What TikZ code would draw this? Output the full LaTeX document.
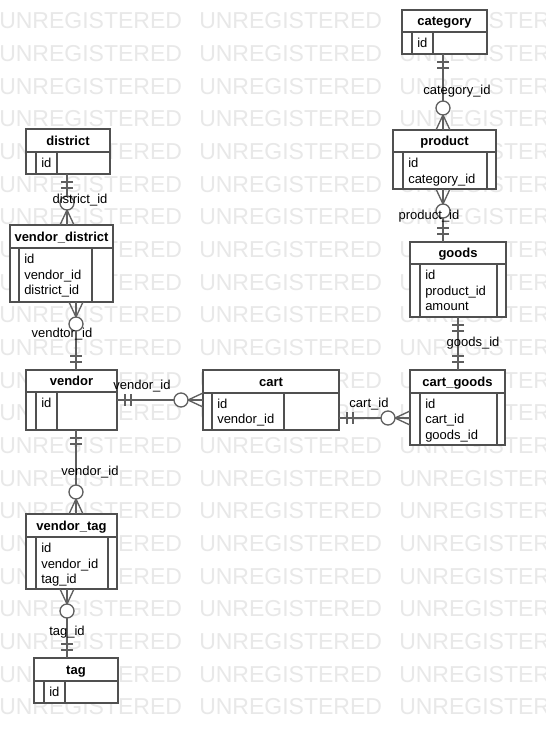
\documentclass[tikz,border=0pt]{standalone}
\usepackage{fontspec}
\setmainfont{Liberation Sans}
\usetikzlibrary{calc}
\definecolor{boxc}{RGB}{80,80,80}
\definecolor{relc}{RGB}{95,95,95}
\definecolor{wmc}{RGB}{232,232,232}
\tikzset{
  ent/.style={draw=boxc, fill=white, line width=1.4pt, inner sep=0pt, outer sep=0pt, anchor=center},
  innerln/.style={draw=boxc, line width=1.1pt},
  rel/.style={draw=relc, line width=1pt},
  ttl/.style={font=\bfseries\fontsize{9.75pt}{11pt}\selectfont, anchor=base, inner sep=0pt},
  attr/.style={font=\fontsize{9.75pt}{11pt}\selectfont, anchor=base west, inner sep=0pt},
  lab/.style={font=\fontsize{9.75pt}{11pt}\selectfont, anchor=base, inner sep=0pt},
  wm/.style={font=\fontsize{17.25pt}{20pt}\selectfont, text=wmc, anchor=west, inner sep=0pt}
}
% name, title, x1, y1, x2, y2, header y, inner x a, inner x b
\newcommand\entbox[9]{%
  \node[ent, minimum width={(#5-#3)*0.75pt}, minimum height={(#6-#4)*0.75pt}] (#1) at ({(#3+#5)/2},{(#4+#6)/2}) {};
  \draw[innerln] (#3,#7) -- (#5,#7) (#8,#7) -- (#8,#6) (#9,#7) -- (#9,#6);
  \node[ttl] (#1-t) at ({(#3+#5)/2},{(#4+#7)/2+4.5}) {#2};
}
% name, x, first baseline y, list
\newcommand\attrs[4]{%
  \foreach \atext [count=\ai] in {#4} {\node[attr] (#1-a\ai) at (#2+5, {#3+15.5*(\ai-1)}) {\atext};}
}
\newcommand\oneend[2]{%
  \begin{scope}[shift={(#1)}, rotate=#2]
    \draw[rel] (8,-6) -- (8,6) (14,-6) -- (14,6);
  \end{scope}}
\newcommand\manyend[2]{%
  \begin{scope}[shift={(#1)}, rotate=#2]
    \draw[rel] (0,-7) -- (15,0) -- (0,7) (0,0) -- (15,0);
    \draw[rel, fill=white] (22,0) circle[radius=7];
  \end{scope}}
\begin{document}
\begin{tikzpicture}[x=0.75pt, y=-0.75pt]
\useasboundingbox (0,0) rectangle (546,743);
\fill[white] (0,0) rectangle (546,743);
% watermark
\foreach \k in {0,...,21} {
  \foreach \xx in {0,200,400} {
    \node[wm] (wm-\k-\xx) at (\xx-1, {21+32.67*\k}) {UNREGISTERED};
  }
}
% entities
\entbox{category}{category}{402}{10}{487}{54}{32}{412}{433}
\attrs{category}{412}{47.5}{id}
\entbox{district}{district}{26}{129}{110}{174}{152}{36}{57}
\attrs{district}{36}{167.5}{id}
\entbox{vdistrict}{vendor\_district}{10}{225}{113}{302}{248}{19}{92}
\attrs{vdistrict}{19}{263.5}{id, vendor\_id, district\_id}
\entbox{vendor}{vendor}{26}{370}{117}{430}{392}{36}{57}
\attrs{vendor}{36}{407.5}{id}
\entbox{cart}{cart}{203}{370}{339}{430}{393}{212}{284}
\attrs{cart}{212}{408}{id, vendor\_id}
\entbox{cartgoods}{cart\_goods}{410}{370}{505}{445}{393}{420}{497}
\attrs{cartgoods}{420}{408}{id, cart\_id, goods\_id}
\entbox{goods}{goods}{410}{242}{506}{317}{264}{420}{497}
\attrs{goods}{420}{279.5}{id, product\_id, amount}
\entbox{product}{product}{393}{130}{496}{189}{152}{403}{487}
\attrs{product}{403}{167.5}{id, category\_id}
\entbox{vtag}{vendor\_tag}{26}{514}{117}{589}{537}{36}{108}
\attrs{vtag}{36}{552.5}{id, vendor\_id, tag\_id}
\entbox{tag}{tag}{34}{658}{118}{703}{681}{44}{65}
\attrs{tag}{44}{696.5}{id}
% helper coordinates for connector positions
\path (443,0) coordinate (xA) (458,0) coordinate (xB) (67,0) coordinate (xC) (76,0) coordinate (xD)
      (0,418) coordinate (yE) (0,400) coordinate (yF);
% 1 category - product
\draw[rel] (category.south -| xA) -- (product.north -| xA);
\oneend{category.south -| xA}{-90}
\manyend{product.north -| xA}{90}
\node[lab] (l1) at (457,94.5) {category\_id};
% 2 product - goods
\draw[rel] (product.south -| xA) -- (goods.north -| xA);
\manyend{product.south -| xA}{-90}
\oneend{goods.north -| xA}{90}
\node[lab] (l2) at (429,219.5) {product\_id};
% 3 goods - cart_goods
\draw[rel] (goods.south -| xB) -- (cartgoods.north -| xB);
\oneend{goods.south -| xB}{-90}
\oneend{cartgoods.north -| xB}{90}
\node[lab] (l3) at (473,346.5) {goods\_id};
% 4 cart - cart_goods
\draw[rel] (cart.east |- yE) -- (cartgoods.west |- yE);
\oneend{cart.east |- yE}{0}
\manyend{cartgoods.west |- yE}{180}
\node[lab] (l4) at (369,407.5) {cart\_id};
% 5 vendor - cart
\draw[rel] (vendor.east |- yF) -- (cart.west |- yF);
\oneend{vendor.east |- yF}{0}
\manyend{cart.west |- yF}{180}
\node[lab] (l5) at (142,389.5) {vendor\_id};
% 6 vendor - vendor_tag
\draw[rel] (vendor.south -| xD) -- (vtag.north -| xD);
\oneend{vendor.south -| xD}{-90}
\manyend{vtag.north -| xD}{90}
\node[lab] (l6) at (90,475.5) {vendor\_id};
% 7 vendor_tag - tag
\draw[rel] (vtag.south -| xC) -- (tag.north -| xC);
\manyend{vtag.south -| xC}{-90}
\oneend{tag.north -| xC}{90}
\node[lab] (l7) at (67,635.5) {tag\_id};
% 8 district - vendor_district
\draw[rel] (district.south -| xC) -- (vdistrict.north -| xC);
\oneend{district.south -| xC}{-90}
\manyend{vdistrict.north -| xC}{90}
\node[lab] (l8) at (80,203.5) {district\_id};
% 9 vendor_district - vendor
\draw[rel] (vdistrict.south -| xD) -- (vendor.north -| xD);
\manyend{vdistrict.south -| xD}{-90}
\oneend{vendor.north -| xD}{90}
\node[lab] (l9) at (62,337.5) {vendtor\_id};
\end{tikzpicture}
\end{document}
